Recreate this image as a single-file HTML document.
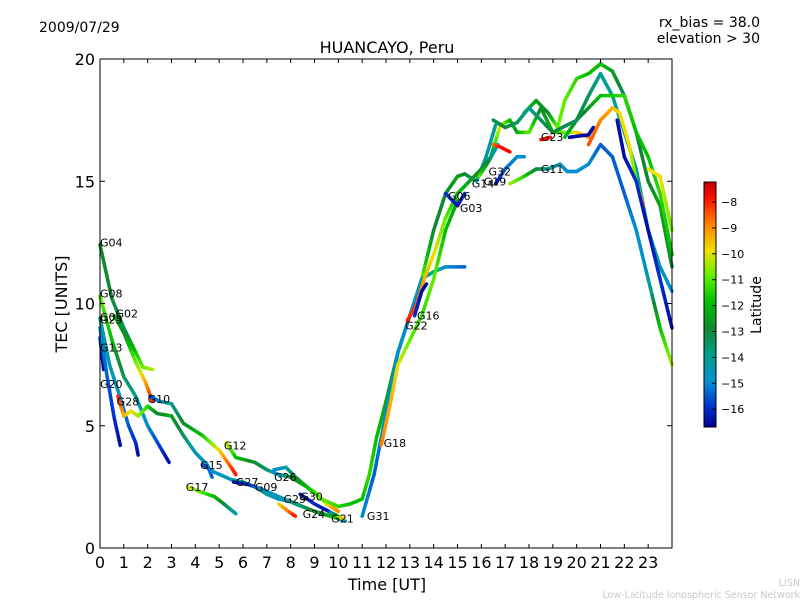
<!DOCTYPE html>
<html><head><meta charset="utf-8"><style>
body{margin:0;background:#fff;}
svg text{font-family:"DejaVu Sans","Liberation Sans",sans-serif;}
</style></head><body>
<svg id="chart" width="800" height="600" viewBox="0 0 800 600">
<defs>
<linearGradient id="cbar" x1="0" y1="1" x2="0" y2="0">
<stop offset="0" stop-color="#000090"/>
<stop offset="0.08" stop-color="#0030d0"/>
<stop offset="0.185" stop-color="#0090d0"/>
<stop offset="0.29" stop-color="#00a090"/>
<stop offset="0.40" stop-color="#108830"/>
<stop offset="0.51" stop-color="#00c000"/>
<stop offset="0.615" stop-color="#60f000"/>
<stop offset="0.72" stop-color="#f0e000"/>
<stop offset="0.83" stop-color="#ff8000"/>
<stop offset="0.93" stop-color="#ff1000"/>
<stop offset="1" stop-color="#c00000"/>
</linearGradient>
</defs>
<text x="39" y="32" font-size="14">2009/07/29</text>
<text x="760" y="27" font-size="14" text-anchor="end">rx_bias = 38.0</text>
<text x="760" y="43" font-size="14" text-anchor="end">elevation &gt; 30</text>
<text x="387" y="53" font-size="16" text-anchor="middle">HUANCAYO, Peru</text>
<text x="387" y="590" font-size="16" text-anchor="middle">Time [UT]</text>
<text x="67" y="304" font-size="16" text-anchor="middle" transform="rotate(-90 67 304)">TEC [UNITS]</text>
<text x="800" y="586" font-size="9.5" fill="#c8c8c8" text-anchor="end">LISN</text>
<text x="800" y="598" font-size="9.5" fill="#c8c8c8" text-anchor="end">Low-Latitude Ionospheric Sensor Network</text>
<g id="traces"></g>
<g id="labels"></g>
<rect x="100" y="59" width="572" height="489" fill="none" stroke="#000" stroke-width="1"/>
<g id="axes"></g>
<rect x="704" y="182" width="12" height="245" fill="url(#cbar)" stroke="#000" stroke-width="1"/>
<g id="cbticks"></g>
<text x="761" y="305" font-size="14" text-anchor="middle" transform="rotate(-90 761 305)">Latitude</text>
</svg>
<script>
const xTicks=[0,1,2,3,4,5,6,7,8,9,10,11,12,13,14,15,16,17,18,19,20,21,22,23];
const yTicks=[0,5,10,15,20];
const cbTicks=[-8,-9,-10,-11,-12,-13,-14,-15,-16];
// each trace: [hour, tec, latitude] points
const trG04=[[0,12.4,-13],[0.5,10.2,-13],[1,9,-13.5],[1.5,8,-12],[1.8,7.4,-11],[2.2,7.3,-10.5]];
const trG08=[[0,10.3,-11],[0.5,8.5,-12],[1,7,-13.5],[1.5,6.2,-14],[2,5,-15],[2.6,4,-16],[2.9,3.5,-16.5]];
const trG02=[[0.6,9.5,-12],[1,8.8,-13],[1.5,7.6,-11],[1.9,6.8,-9.5],[2.2,6,-8]];
const trG25=[[0,9.4,-14],[0.4,7.5,-14.5],[0.8,6.3,-15],[1.2,5,-15.5],[1.5,4.3,-16],[1.6,3.8,-16.5]];
const trG13=[[0,8.6,-16],[0.15,7.3,-16.5]];
const trG20=[[0,9,-15],[0.3,7,-15.5],[0.6,5.3,-16],[0.85,4.2,-16.5]];
const trG28=[[0.75,6.2,-8],[1,5.4,-9.5],[1.3,5.6,-10],[1.6,5.4,-10.5],[2,5.8,-11.5],[2.4,5.5,-13],[3,5.4,-12.5],[3.5,4.6,-13.5],[4,3.9,-14.5],[4.5,3.4,-15],[4.7,2.9,-15.5]];
const trG10=[[2.1,6.2,-16],[2.5,6,-15],[3,5.9,-14],[3.5,5.1,-13],[4.3,4.6,-12],[5,4,-10],[5.5,3.3,-8.5],[5.7,3,-8]];
const trG12=[[5.3,4.3,-10],[5.7,3.7,-12],[6.5,3.5,-13],[7,3.2,-13.5],[7.5,3,-15],[8,2.9,-13],[8.5,2.6,-12.5],[9,2.3,-11],[9.5,1.8,-10],[10,1.5,-9]];
const trG15=[[4.3,3.4,-16],[4.8,3.1,-15],[5.5,2.8,-14.5],[6,2.7,-14],[6.5,2.5,-13],[7,2.2,-14],[7.5,2.0,-15],[8,1.9,-14],[9,1.5,-13],[9.7,1.3,-12],[10.3,1.1,-15]];
const trG17=[[3.7,2.5,-10],[4.2,2.3,-11],[4.8,2.1,-12],[5.2,1.8,-13],[5.7,1.4,-14.5]];
const trG27=[[5.6,2.7,-16.5],[6.2,2.6,-16],[6.8,2.4,-15],[7.5,2.1,-14.5],[8.2,1.8,-14],[9,1.5,-13],[10,1.2,-12]];
const trG29=[[7.5,1.8,-10],[7.9,1.5,-9],[8.2,1.3,-8]];
const trG30=[[8.4,2.2,-16.5],[9,1.8,-16],[9.6,1.5,-16.5],[10.2,1.2,-9]];
const trG26=[[7.3,3.2,-15],[7.8,3.3,-14.5],[8.2,2.9,-13],[8.8,2.4,-12],[9.3,2.0,-11],[10,1.7,-11.5],[10.5,1.8,-12],[11,2,-12],[11.3,3,-11.5],[11.6,4.5,-12],[12,6,-12.5],[12.5,8,-13],[13,9.5,-12],[13.5,11,-11],[14,13,-13],[14.5,14.5,-13],[15,15.2,-12.5],[15.3,15.3,-13],[15.8,15,-14],[16.2,16,-14.5],[16.6,17.3,-14]];
const trG31=[[11.0,1.3,-15],[11.5,3,-15.5],[12,5.5,-15],[12.5,8,-15],[13,9.5,-15],[13.5,11,-14.5],[14,11.3,-14],[14.5,11.5,-15],[15.3,11.5,-15.5]];
const trG18=[[11.8,4.2,-9],[12.2,6,-9.5],[12.5,7.5,-10],[13,8.5,-11],[13.5,9.5,-11.5],[14,11,-11],[14.5,13,-12],[15,14.2,-12.5]];
const trG22=[[12.9,9.3,-8],[13.3,10,-8.5],[13.6,11,-9.5],[14,12,-10],[14.5,13.5,-11],[15,14.5,-12],[15.5,15,-12.5],[16,15.5,-13],[16.4,16,-13],[16.8,17.3,-10],[17.2,17.5,-12],[17.5,17.0,-12.5],[18,17,-11],[18.5,18,-13],[19,17,-12],[19.5,17.0,-11],[20,17.0,-10],[20.5,16.8,-9]];
const trG16=[[13.2,9.5,-16],[13.5,10.5,-16.5],[13.7,10.8,-16.5]];
const trG06=[[14.5,14.5,-16],[14.8,14.2,-16],[15.0,14.0,-16.5],[15.3,14.5,-16]];
const trG14=[[15.9,15.2,-11],[16.3,15.8,-13],[16.7,16.5,-15]];
const trG32=[[16.5,16.5,-9],[16.8,16.4,-8],[17.2,16.2,-7.8]];
const trG19=[[16.6,14.9,-16.5],[17,15.5,-15.5],[17.5,16,-15],[17.8,16.0,-15]];
const trG11=[[17.2,14.9,-10.5],[17.8,15.2,-11.5],[18.3,15.5,-13],[18.8,15.5,-14],[19.3,15.7,-14.5],[19.6,15.4,-15],[20,15.4,-15],[20.5,15.7,-15],[21,16.5,-15.5],[21.5,16,-15.5],[22,14.5,-15.5],[22.5,13,-15],[23,11,-14.5],[23.5,9,-12],[24,7.5,-10.5]];
const trTop=[[17.8,17.8,-12],[18.3,18.3,-12.5],[18.8,17.8,-13],[19.2,17.2,-11],[19.5,18.3,-11],[20,19.2,-11.5],[20.5,19.4,-12],[21,19.8,-12],[21.5,19.5,-12.5],[22,18.5,-13.5],[22.5,17,-13],[23,15,-13],[23.5,14,-12.5],[24,11.5,-13]];
const trB=[[19.5,16.8,-12],[20,17.5,-13],[20.5,18.5,-13.5],[21,19.4,-14],[21.5,18.5,-14],[22,17,-14.5],[22.5,15.5,-14],[23,13,-14],[23.5,11.5,-14.5],[24,10.5,-15]];
const trC=[[16.5,17.5,-13.5],[17,17.2,-13],[17.5,17.4,-13.5],[18,18,-14],[18.5,17.5,-13.5],[19,17,-13],[20,17.5,-13.5],[21,18.5,-12],[22,18.5,-11.5],[22.5,17,-12],[23,16,-12],[23.5,14.5,-11.5],[24,12,-12]];
const trG23=[[18.5,16.7,-8],[18.9,16.8,-8]];
const trD=[[19.7,16.8,-16.5],[20.5,16.9,-16.5],[20.7,17.2,-16.5]];
const trE=[[20.5,16.5,-8.5],[21,17.5,-9],[21.5,18,-9.5],[21.8,17.8,-10],[22.2,16.5,-10],[22.5,15,-11],[22.8,14,-8.5]];
const trF=[[21.7,17.5,-16.5],[22,16,-16.5],[22.5,15,-16],[23,13,-16.5],[23.5,11,-16],[24,9,-16.5]];
const trG=[[23,15.5,-10],[23.5,15.2,-10],[24,13,-11]];
const traces=[trG04,trG08,trG02,trG25,trG13,trG20,trG28,trG10,trG12,trG15,trG17,trG27,trG29,trG30,trG26,trG31,trG18,trG22,trG16,trG06,trG14,trG32,trG19,trG11,trTop,trB,trC,trG23,trD,trE,trF,trG];
const labelNames=["G04","G08","G02","G05","G25","G13","G20","G28","G10","G12","G15","G17","G27","G09","G26","G29","G30","G24","G21","G31","G18","G22","G16","G06","G03","G14","G19","G32","G23","G11"];
const labelX=[0,0,0.65,0,0,0,0,0.7,2,5.2,4.2,3.6,5.7,6.5,7.3,7.7,8.4,8.5,9.7,11.2,11.9,12.8,13.3,14.6,15.1,15.6,16.1,16.3,18.5,18.5];
const labelY=[12.5,10.4,9.6,9.45,9.35,8.2,6.7,6.0,6.1,4.2,3.4,2.5,2.7,2.5,2.9,2.0,2.1,1.4,1.2,1.3,4.3,9.1,9.5,14.4,13.9,14.9,15.0,15.4,16.8,15.5];

const X=h=>100+h*572/24, Y=v=>548-v*489/20;
const LY=l=>202+(-8-l)*25.9;
const stops=[[-16.7,[0,0,144]],[-16,[0,48,208]],[-15,[0,144,208]],[-14,[0,160,144]],[-13,[16,136,48]],[-12,[0,192,0]],[-11,[96,240,0]],[-10,[240,224,0]],[-9,[255,128,0]],[-8,[255,16,0]],[-7.2,[192,0,0]]];
function col(l){
  if(l<=stops[0][0])return 'rgb('+stops[0][1]+')';
  for(let i=1;i<stops.length;i++){if(l<=stops[i][0]){const a=stops[i-1],b=stops[i],t=(l-a[0])/(b[0]-a[0]);
    return 'rgb('+a[1].map((c,k)=>Math.round(c+(b[1][k]-c)*t)).join(',')+')';}}
  return 'rgb(192,0,0)';
}
const NS='http://www.w3.org/2000/svg';
const gT=document.getElementById('traces');
traces.forEach((tr)=>{
  for(let i=0;i<tr.length-1;i++){
    const a=tr[i],b=tr[i+1],n=6;
    for(let k=0;k<n;k++){
      const t0=k/n,t1=(k+1)/n;
      const ln=document.createElementNS(NS,'line');
      
      
      ln.setAttribute('x1',X(a[0]+(b[0]-a[0])*t0));ln.setAttribute('y1',Y(a[1]+(b[1]-a[1])*t0));
      ln.setAttribute('x2',X(a[0]+(b[0]-a[0])*t1));ln.setAttribute('y2',Y(a[1]+(b[1]-a[1])*t1));
      ln.setAttribute('stroke',col(a[2]+(b[2]-a[2])*(t0+t1)/2));
      ln.setAttribute('stroke-width','3.5');ln.setAttribute('stroke-linecap','round');
      gT.appendChild(ln);
    }
  }
});
const gL=document.getElementById('labels');
labelNames.forEach((nm,i)=>{
  const t=document.createElementNS(NS,'text');
  
  
  t.setAttribute('x',X(labelX[i]));t.setAttribute('y',Y(labelY[i])+4);
  t.setAttribute('font-size','11');t.textContent=nm;gL.appendChild(t);
});
const gA=document.getElementById('axes');
function mk(tag,attrs,txt){const e=document.createElementNS(NS,tag);for(const k in attrs)e.setAttribute(k,attrs[k]);if(txt!==undefined)e.textContent=txt;gA.appendChild(e);return e;}
xTicks.forEach(h=>{
  const e1=mk('line',{x1:X(h),x2:X(h),y1:548,y2:544,stroke:'#000'});
  
  
  const e2=mk('line',{x1:X(h),x2:X(h),y1:59,y2:63,stroke:'#000'});
  
  
  const t=mk('text',{x:X(h),y:568,'font-size':16,'text-anchor':'middle'},String(h));
  
  
});
yTicks.forEach(v=>{
  const e1=mk('line',{x1:100,x2:105,y1:Y(v),y2:Y(v),stroke:'#000'});
  
  
  const e2=mk('line',{x1:667,x2:672,y1:Y(v),y2:Y(v),stroke:'#000'});
  
  
  const t=mk('text',{x:95,y:Y(v)+6,'font-size':16,'text-anchor':'end'},String(v));
  
  
});
const gC=document.getElementById('cbticks');
cbTicks.forEach(l=>{
  const ln=document.createElementNS(NS,'line');
  
  
  ln.setAttribute('x1',712);ln.setAttribute('x2',716);ln.setAttribute('y1',LY(l));ln.setAttribute('y2',LY(l));ln.setAttribute('stroke','#000');
  gC.appendChild(ln);
  const t=document.createElementNS(NS,'text');
  
  
  t.setAttribute('x',721);t.setAttribute('y',LY(l)+4);t.setAttribute('font-size','11');
  t.textContent='\u2212'+Math.abs(l);gC.appendChild(t);
});
</script>
</body></html>
